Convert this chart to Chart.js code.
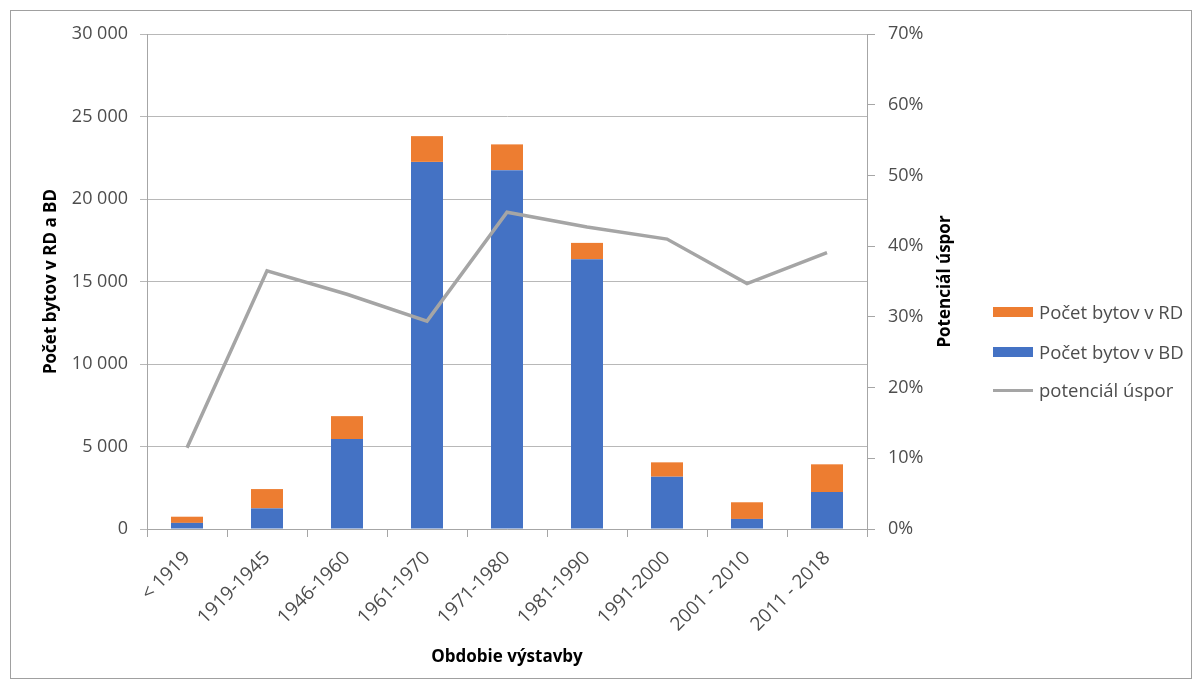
<!DOCTYPE html>
<html>
<head>
<meta charset="utf-8">
<script src="https://cdn.jsdelivr.net/npm/chart.js@4/dist/chart.umd.min.js"></script>
<style>
  body { margin: 0; background: #fff; font-family: "Open Sans", sans-serif; }
  #wrap { position: relative; width: 1195px; height: 686px; }
  #ramec { position: absolute; left: 10px; top: 10px; width: 1182px; height: 669px; border: 1px solid #a0a0a0; box-sizing: border-box; pointer-events: none; }
  #legenda { position: absolute; left: 993px; top: 300px; color: #4d4d4d; font-size: 18.5px; }
  .pol { position: absolute; left: 0; white-space: nowrap; height: 24px; line-height: 24px; }
  .pol span.zn { position: absolute; left: 0; width: 40px; }
  .pol span.tx { position: absolute; left: 46px; }
</style>
</head>
<body>
<div id="wrap">
  <canvas id="myChart" width="1195" height="686"></canvas>
  <div id="ramec"></div>
  <div id="legenda">
    <div class="pol" style="top:0px"><span class="zn" style="top:7px;height:10px;background:#ED7D31"></span><span class="tx">Počet bytov v RD</span></div>
    <div class="pol" style="top:40px"><span class="zn" style="top:7px;height:10px;background:#4472C4"></span><span class="tx">Počet bytov v BD</span></div>
    <div class="pol" style="top:78px"><span class="zn" style="top:11px;height:3px;background:#A5A5A5"></span><span class="tx">potenciál úspor</span></div>
  </div>
</div>
<script>
const obdobie = ['< 1919', '1919-1945', '1946-1960', '1961-1970', '1971-1980', '1981-1990', '1991-2000', '2001 - 2010', '2011 - 2018']
const bytyBD = [370, 1250, 5450, 22250, 21750, 16350, 3170, 610, 2240]
const bytyRD = [375, 1170, 1390, 1560, 1560, 990, 870, 1010, 1680]
const potencial = [11.5, 36.5, 33.2, 29.4, 44.8, 42.7, 41.0, 34.7, 39.1] // v %

const sivaText = '#4d4d4d'
const font18 = { family: 'Open Sans', size: 18 }

// nazov pravej osi (cita sa zdola nahor)
const pravyNazov = {
  id: 'pravyNazov',
  afterDraw(chart) {
    const ctx = chart.ctx
    const a = chart.chartArea
    ctx.save()
    ctx.translate(945, (a.top + a.bottom) / 2)
    ctx.rotate(-Math.PI / 2)
    ctx.font = 'bold 17px "Open Sans"'
    ctx.fillStyle = '#000'
    ctx.textAlign = 'center'
    ctx.textBaseline = 'middle'
    ctx.fillText('Potenciál úspor', 0, 0)
    ctx.restore()
  }
}

const $ctx = document.getElementById('myChart').getContext('2d')

const datos = {
  labels: obdobie,
  datasets: [
    {
      label: 'Počet bytov v BD',
      data: bytyBD,
      backgroundColor: '#4472C4',
      stack: 'byty',
      order: 1,
      yAxisID: 'y'
    },
    {
      label: 'Počet bytov v RD',
      data: bytyRD,
      backgroundColor: '#ED7D31',
      stack: 'byty',
      order: 1,
      yAxisID: 'y'
    },
    {
      label: 'potenciál úspor',
      type: 'line',
      data: potencial,
      borderColor: '#A5A5A5',
      borderWidth: 3.5,
      pointRadius: 0,
      tension: 0,
      order: 0,
      yAxisID: 'y1'
    }
  ]
}

const config = {
  type: 'bar',
  data: datos,
  options: {
    responsive: false,
    animation: false,
    devicePixelRatio: 1,
    barPercentage: 0.4,
    categoryPercentage: 1,
    layout: { padding: { top: 34, left: 0, right: 0, bottom: 0 } },
    plugins: {
      legend: { display: false },
      tooltip: { enabled: false }
    },
    scales: {
      x: {
        stacked: true,
        grid: { display: true, drawOnChartArea: false, offset: true, tickLength: 8, color: '#a6a6a6' },
        border: { color: '#a6a6a6' },
        ticks: { color: sivaText, font: { family: 'Open Sans', size: 19 }, minRotation: 45, maxRotation: 45, autoSkip: false, padding: 10 },
        title: { display: true, text: 'Obdobie výstavby', color: '#000', font: { family: 'Open Sans', size: 17, weight: 'bold' }, padding: { top: 0, bottom: 19 } },
        afterFit: (s) => { s.height = 157 }
      },
      y: {
        stacked: true,
        min: 0,
        max: 30000,
        position: 'left',
        grid: { color: '#b8b8b8', tickLength: 7 },
        border: { color: '#a6a6a6' },
        ticks: {
          stepSize: 5000,
          color: sivaText,
          font: font18,
          padding: 12,
          callback: (v) => v >= 1000 ? Math.floor(v / 1000) + ' ' + String(v % 1000).padStart(3, '0') : String(v)
        },
        title: { display: true, text: 'Počet bytov v RD a BD', color: '#000', font: { family: 'Open Sans', size: 17, weight: 'bold' }, padding: { top: 41, bottom: 0 } },
        afterFit: (s) => { s.width = 147 }
      },
      y1: {
        min: 0,
        max: 70,
        position: 'right',
        grid: { drawOnChartArea: false, tickLength: 8, color: '#a6a6a6' },
        border: { color: '#a6a6a6' },
        ticks: { stepSize: 10, color: sivaText, font: font18, padding: 13, callback: (v) => v + '%' },
        afterFit: (s) => { s.width = 328 }
      }
    }
  },
  plugins: [pravyNazov]
}

var mychar = new Chart($ctx, config)
</script>
</body>
</html>
